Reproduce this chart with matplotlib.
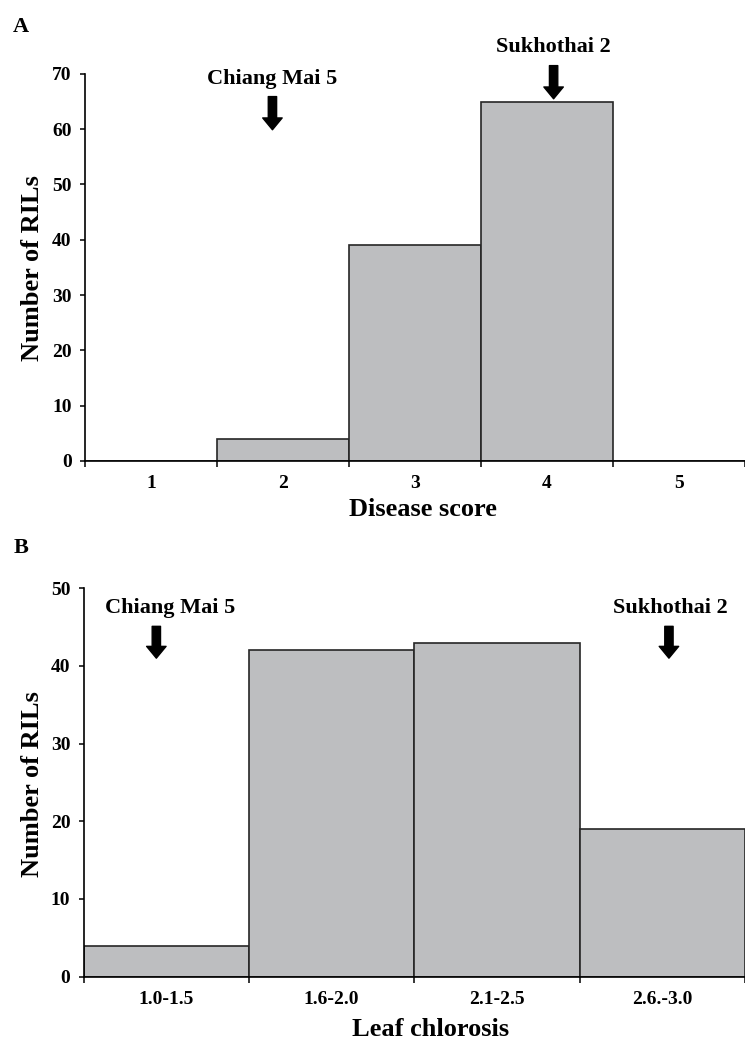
import matplotlib
matplotlib.use('Agg')
import matplotlib.pyplot as plt

plt.rcParams['font.family'] = ['Liberation Serif', 'DejaVu Serif']
plt.rcParams['font.weight'] = 'bold'

# panel A: disease score
scores = ['1', '2', '3', '4', '5']
score_counts = [0, 4, 39, 65, 0]

# panel B: leaf chlorosis
chlorosis = ['1.0-1.5', '1.6-2.0', '2.1-2.5', '2.6.-3.0']
chlorosis_counts = [4, 42, 43, 19]

# parent line markers: (label, x, text y, arrow start y, arrow end y)
markers_a = [('Chiang Mai 5', 1.42, 69.1, 65.9, 59.9),
             ('Sukhothai 2', 3.55, 74.8, 71.5, 65.5)]
markers_b = [('Chiang Mai 5', 0.44, 47.4, 45.1, 41.0),
             ('Sukhothai 2', 3.54, 47.4, 45.1, 41.0)]

BAR_COLOR = '#bdbec0'
EDGE_COLOR = '#262626'


def draw_panel(ax, labels, counts, ymax, ystep, xmax, xlabel, markers, text_dx):
    n = len(labels)
    pos = list(range(n))
    ax.bar(pos, counts, width=1.0, align='edge', color=BAR_COLOR,
           edgecolor=EDGE_COLOR, linewidth=1.2, zorder=2)
    ax.set_xlim(0, xmax)
    ax.set_ylim(0, ymax)
    ax.set_yticks(range(0, ymax + 1, ystep))
    ax.set_xticks(range(0, n + 1))
    ax.set_xticklabels([])
    ax.set_xticks([p + 0.5 for p in pos], minor=True)
    ax.set_xticklabels(labels, minor=True)
    ax.tick_params(axis='x', which='major', length=4.5, width=1.1, direction='out')
    ax.tick_params(axis='x', which='minor', length=0, pad=10, labelsize=14)
    ax.tick_params(axis='y', length=3.6, width=1.1, direction='out', pad=6, labelsize=14)
    for s in ['top', 'right']:
        ax.spines[s].set_visible(False)
    for s in ['left', 'bottom']:
        ax.spines[s].set_linewidth(1.2)
        ax.spines[s].set_clip_on(False)
    ax.set_xlabel(xlabel, fontsize=19, fontweight='bold')
    ax.set_ylabel('Number of RILs', fontsize=19, fontweight='bold')
    for name, x, ty, y0, y1 in markers:
        ax.text(x + text_dx.get(name, 0), ty, name, ha='center', va='center',
                fontsize=16, fontweight='bold', clip_on=False)
        ax.annotate('', xy=(x, y1), xytext=(x, y0), annotation_clip=False,
                    arrowprops=dict(arrowstyle='simple,head_width=1.4,head_length=0.85,tail_width=0.6',
                                    fc='black', ec='black', mutation_scale=10,
                                    shrinkA=0, shrinkB=0))


fig = plt.figure(figsize=(7.45, 10.41), dpi=100)
ax_a = fig.add_axes([0.1141, 0.5572, 0.8859, 0.3718])
ax_b = fig.add_axes([0.1122, 0.0618, 0.8878, 0.3731])

draw_panel(ax_a, scores, score_counts, 70, 10, 4.96, 'Disease score', markers_a, {})
draw_panel(ax_b, chlorosis, chlorosis_counts, 50, 10, 3.97, 'Leaf chlorosis', markers_b,
           {'Chiang Mai 5': 0.085, 'Sukhothai 2': 0.01})

ax_a.xaxis.set_label_coords(0.512, -0.1266)
ax_a.yaxis.set_label_coords(-0.0788, 0.499)
ax_b.xaxis.set_label_coords(0.524, -0.137)
ax_b.yaxis.set_label_coords(-0.0765, 0.496)
for ax in (ax_a, ax_b):
    ax.xaxis.label.set_va('center')
    ax.yaxis.label.set_va('center')

fig.text(0.028, 0.974, 'A', fontsize=16, fontweight='bold', ha='center', va='center')
fig.text(0.028, 0.4736, 'B', fontsize=16, fontweight='bold', ha='center', va='center')

fig.savefig('out.png', dpi=100)
